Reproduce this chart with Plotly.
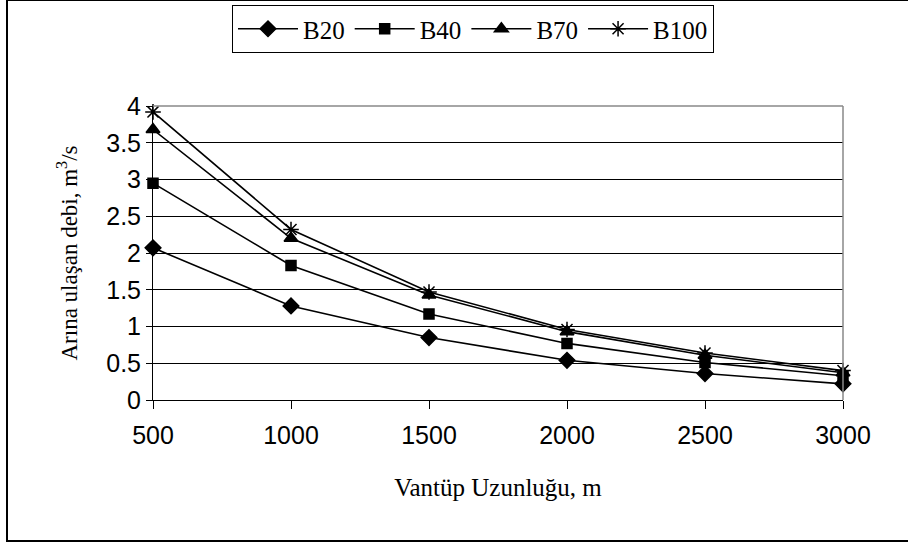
import plotly.graph_objects as go

lengths = [500, 1000, 1500, 2000, 2500, 3000]
b20 = [2.07, 1.28, 0.85, 0.54, 0.36, 0.22]
b40 = [2.95, 1.83, 1.17, 0.77, 0.51, 0.33]
b70 = [3.68, 2.20, 1.43, 0.93, 0.61, 0.37]
b100 = [3.92, 2.32, 1.47, 0.96, 0.64, 0.40]

series = [
    ("B20", b20, "diamond", 12),
    ("B40", b40, "square", 10),
    ("B70", b70, "triangle-up", 12),
    ("B100", b100, "asterisk-open", 13),
]

fig = go.Figure()
for name, vals, sym, size in series:
    fig.add_trace(go.Scatter(
        x=lengths, y=vals, name=name, mode="lines+markers",
        line=dict(color="black", width=1.6),
        marker=dict(symbol=sym, size=size, color="black",
                    line=dict(color="black", width=1.5)),
        cliponaxis=False,
    ))

W, H = 908, 543
L, R, T, B = 153, 843, 106, 400
pw, ph = R - L, B - T

def px(xp):
    return (xp - L) / pw

def py(yp):
    return (B - yp) / ph

fig.update_layout(
    width=W, height=H,
    margin=dict(l=L, r=W - R, t=T, b=H - B, pad=0, autoexpand=False),
    paper_bgcolor="white", plot_bgcolor="white",
    showlegend=True,
    legend=dict(
        orientation="h", x=px(473), xanchor="center", y=py(5), yanchor="top",
        bordercolor="black", borderwidth=1,
        font=dict(family="Liberation Serif", size=25, color="black"),
        itemwidth=60, tracegroupgap=0,
    ),
    xaxis=dict(
        range=[500, 3000], tickvals=lengths, ticktext=[str(v) for v in lengths],
        showgrid=False, zeroline=False,
        showline=True, linecolor="black", linewidth=1,
        ticks="outside", ticklen=8, tickcolor="black",
        ticklabelstandoff=5,
        tickfont=dict(family="Liberation Sans", size=25, color="black"),
        title=dict(text="Vantüp Uzunluğu, m", standoff=30,
                   font=dict(family="Liberation Serif", size=25, color="black")),
    ),
    yaxis=dict(
        range=[0, 4], dtick=0.5, tick0=0,
        showgrid=True, gridcolor="black", gridwidth=1,
        zeroline=False,
        showline=True, linecolor="black", linewidth=1,
        ticks="outside", ticklen=6, tickcolor="black",
        tickfont=dict(family="Liberation Sans", size=25, color="black"),
        title=dict(text="Arına ulaşan debi, m<sup>3</sup>/s", standoff=22,
                   font=dict(family="Liberation Serif", size=23, color="black")),
    ),
    shapes=[
        dict(type="rect", xref="paper", yref="paper",
             x0=px(7), x1=px(920), y0=py(541), y1=py(0),
             line=dict(color="black", width=2), layer="below"),
        dict(type="line", xref="paper", yref="paper",
             x0=0, x1=1, y0=1, y1=1, line=dict(color="#888", width=1.5)),
        dict(type="line", xref="paper", yref="paper",
             x0=1, x1=1, y0=0, y1=1, line=dict(color="#888", width=1.5)),
    ],
)

fig.write_html("out.html")
